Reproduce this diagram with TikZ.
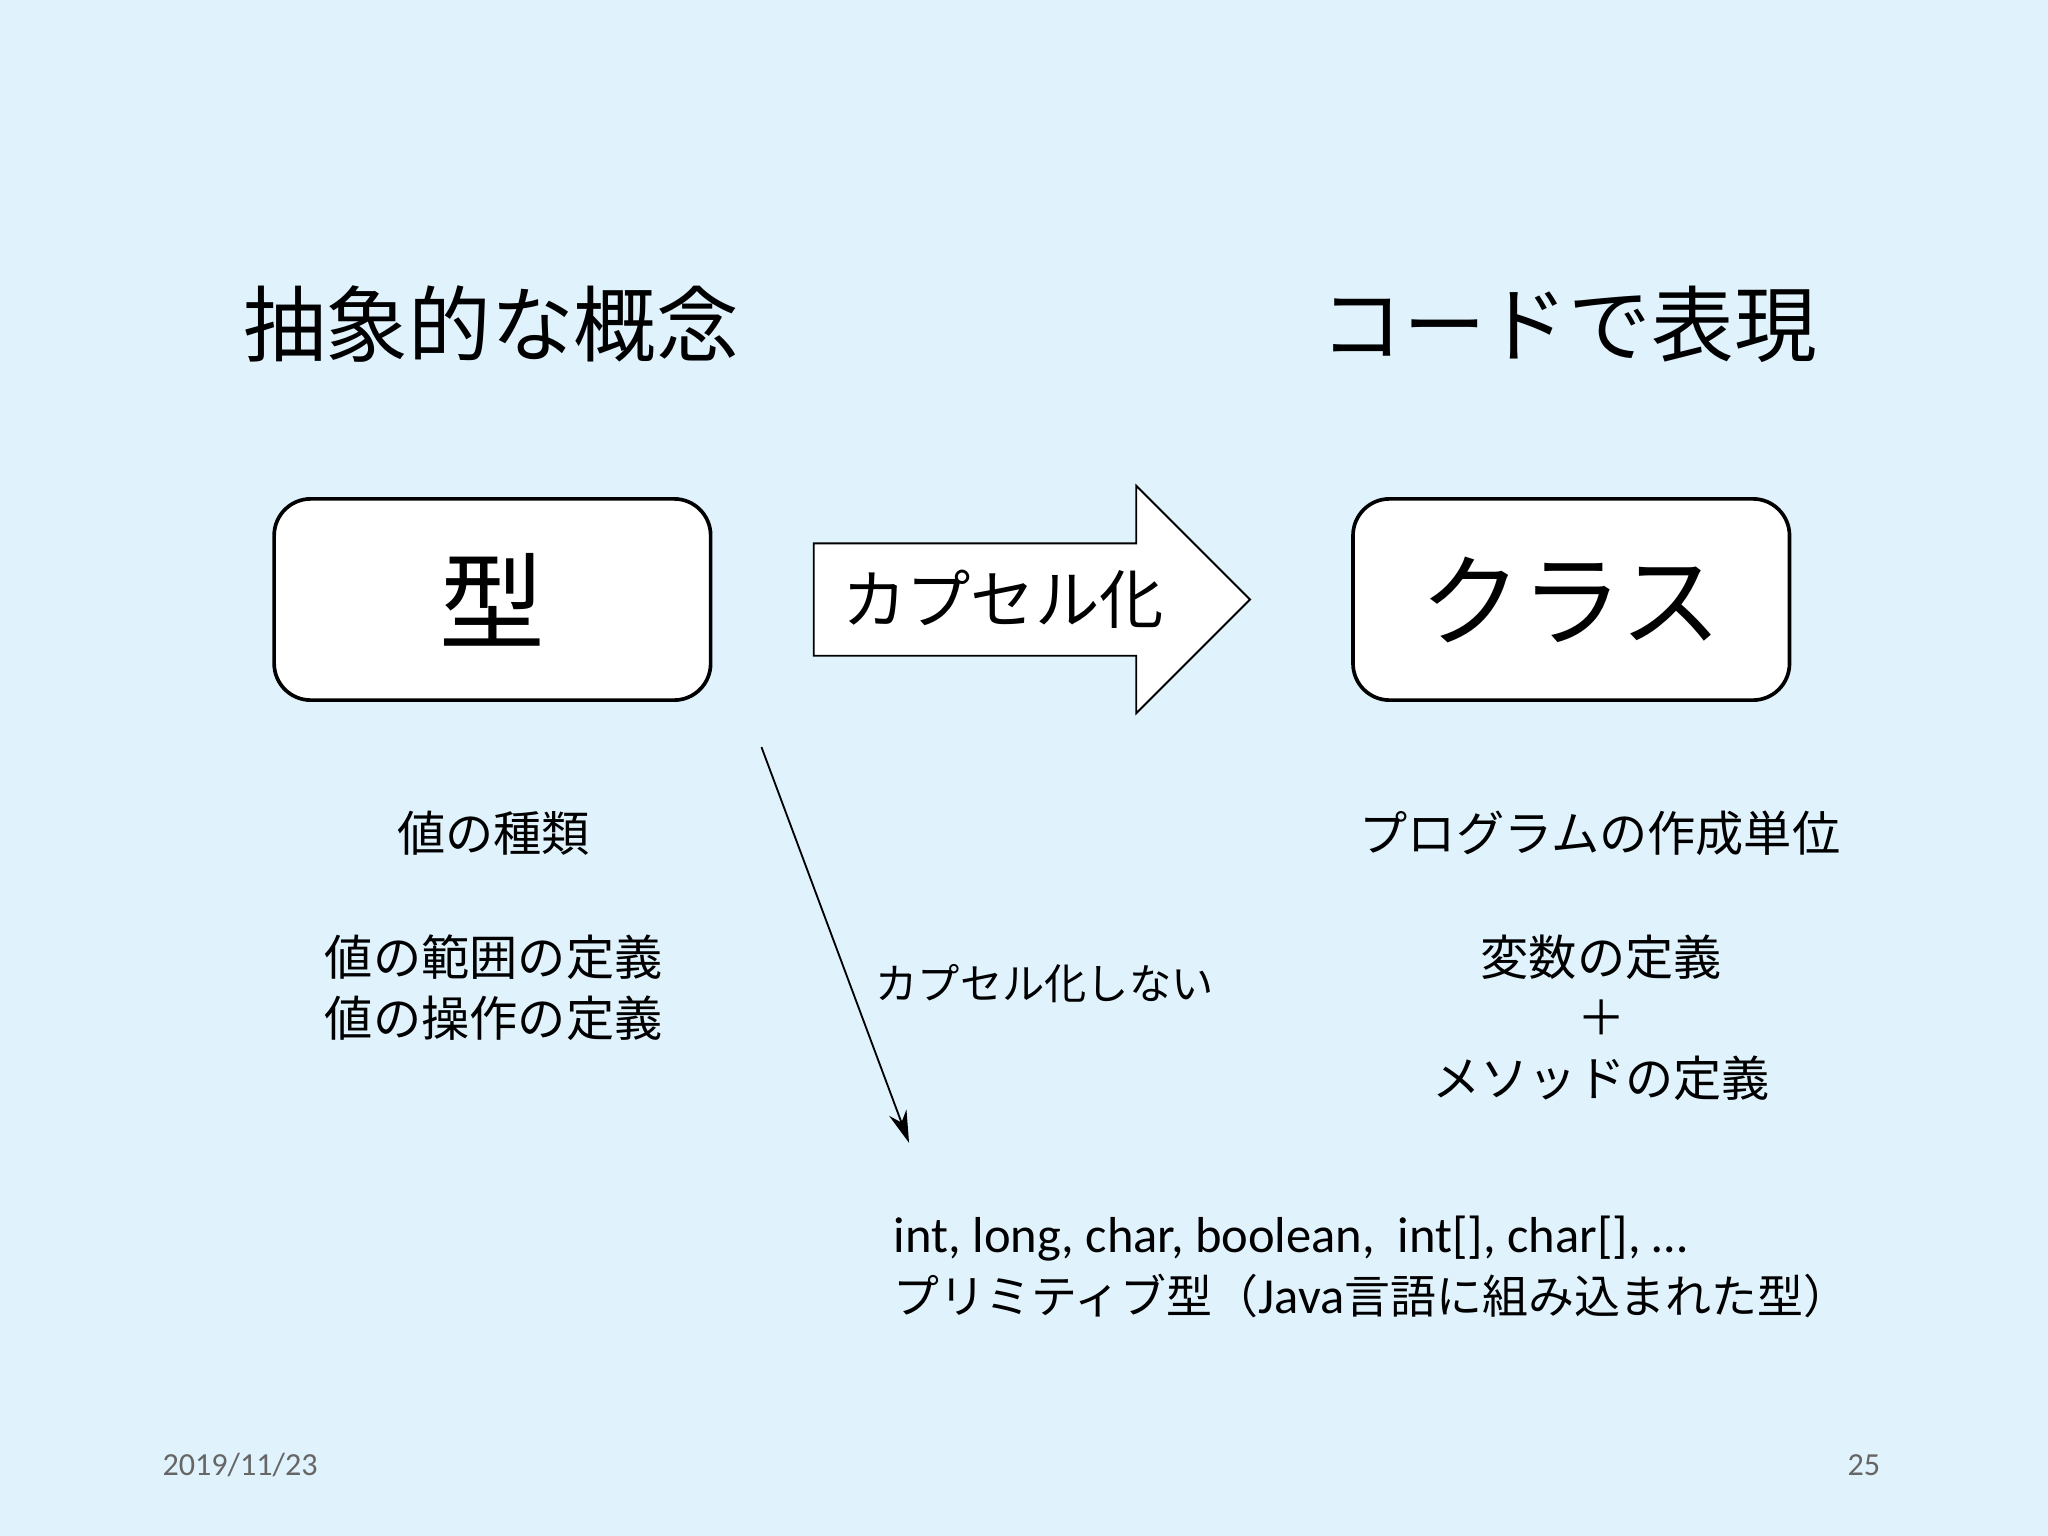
\documentclass[tikz,border=0pt]{standalone}
\usepackage{fontspec}
\setmainfont{Carlito}
\newfontfamily\jp{Noto Sans CJK JP}
\usetikzlibrary{arrows.meta}
\definecolor{slidebg}{RGB}{224,242,252}
\tikzset{
  conceptbox/.style={draw,thick,rounded corners=0.28cm,fill=white,minimum width=3.34cm,minimum height=1.54cm},
  bodytext/.style={font=\jp\fontsize{10.5}{13.2}\selectfont,align=center},
  titletext/.style={font=\jp\fontsize{18}{22}\selectfont},
}
\begin{document}
\begin{tikzpicture}[x=0.01cm,y=-0.01cm]
\fill[slidebg] (0,0) rectangle (1568,1176);
\useasboundingbox (0,0) rectangle (1568,1176);
%titles
\node[titletext] (abstract) at (376,248) {抽象的な概念};
\node[titletext] (code) at (1201,248) {コードで表現};
%boxes
\node[conceptbox,font=\jp\fontsize{23}{28}\selectfont] (type) at (377,459) {型};
\node[conceptbox,font=\jp\fontsize{22}{28}\selectfont] (cls) at (1203,459) {クラス};
%block arrow
\draw[thin,fill=white] (623,416) -- (870,416) -- (870,372) -- (957,459) -- (870,546) -- (870,502) -- (623,502) -- cycle;
\node[font=\jp\fontsize{14}{18}\selectfont] (encap) at (768,459) {カプセル化};
%texts below
\node[bodytext] (kind) at (378,638) {値の種類};
\node[bodytext] (def) at (378,756) {値の範囲の定義\\値の操作の定義};
\node[bodytext] (unit) at (1225,638) {プログラムの作成単位};
\node[bodytext] (member) at (1226,779) {変数の定義\\＋\\メソッドの定義};
%thin arrow
\coordinate (from) at (583,572);
\coordinate (to) at (696,875);
\draw[-{Stealth[length=7pt,width=4pt]}] (from) -- (to);
\node[bodytext,font=\jp\fontsize{9.2}{12}\selectfont,anchor=west] (noencap) at (658,753) {カプセル化しない};
\node[anchor=west,align=left,font=\fontsize{11}{13.4}\selectfont] (prims) at (672,970)
  {int, long, char, boolean,\ \ int[], char[], …\\{\jp\fontsize{10}{13.4}\selectfont プリミティブ型（}Java{\jp\fontsize{10}{13.4}\selectfont 言語に組み込まれた型）}};
%footer
\node[anchor=west,text=gray!80!black,font=\fontsize{7}{9}\selectfont] (date) at (112,1122) {2019/11/23};
\node[anchor=east,text=gray!80!black,font=\fontsize{7}{9}\selectfont] (page) at (1452,1122) {25};
\end{tikzpicture}
\end{document}
